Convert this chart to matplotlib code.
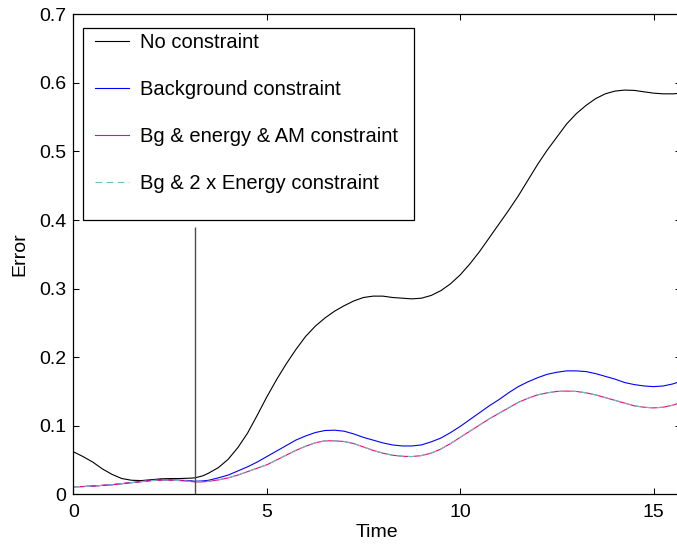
import numpy as np
import matplotlib
matplotlib.use('Agg')
import matplotlib.pyplot as plt
from matplotlib.patches import Rectangle

plt.rcParams['font.family'] = ['Liberation Sans', 'DejaVu Sans']

# values
time = [0.0, 0.25, 0.5, 0.75, 1.0, 1.25, 1.5, 1.75, 2.0, 2.25, 2.5, 2.75, 3.0,
        3.1416, 3.35,
        3.5, 3.75, 4.0, 4.25, 4.5, 4.75, 5.0, 5.25, 5.5, 5.75, 6.0, 6.25, 6.5, 6.75,
        7.0, 7.25, 7.5, 7.75, 8.0, 8.25, 8.5, 8.75, 9.0, 9.25, 9.5, 9.75,
        10.0, 10.25, 10.5, 10.75, 11.0, 11.25, 11.5, 11.75, 12.0, 12.25, 12.5, 12.75,
        13.0, 13.25, 13.5, 13.75, 14.0, 14.25, 14.5, 14.75, 15.0, 15.25, 15.5,
        15.708]
err_none = [0.062, 0.055, 0.047, 0.037, 0.029, 0.023, 0.0205, 0.020, 0.0212, 0.0225, 0.023, 0.023, 0.0235,
            0.024, 0.027,
            0.031, 0.039, 0.051, 0.068, 0.089, 0.115, 0.142, 0.167, 0.190, 0.211, 0.230, 0.245, 0.257, 0.267,
            0.275, 0.282, 0.287, 0.289, 0.289, 0.287, 0.286, 0.285, 0.286, 0.290, 0.297, 0.307,
            0.320, 0.336, 0.354, 0.374, 0.394, 0.414, 0.435, 0.458, 0.481, 0.502, 0.521, 0.540,
            0.555, 0.567, 0.577, 0.584, 0.588, 0.5895, 0.589, 0.587, 0.585, 0.584, 0.584,
            0.585]
err_bg = [0.011, 0.0113, 0.012, 0.013, 0.014, 0.0155, 0.017, 0.0185, 0.020, 0.021, 0.021, 0.0205, 0.020,
          0.019, 0.0195,
          0.0205, 0.024, 0.028, 0.034, 0.040, 0.047, 0.055, 0.063, 0.071, 0.079, 0.085, 0.090, 0.093, 0.0935,
          0.092, 0.088, 0.083, 0.079, 0.075, 0.072, 0.0705, 0.0705, 0.072, 0.0765, 0.082, 0.090,
          0.099, 0.109, 0.119, 0.129, 0.138, 0.148, 0.157, 0.164, 0.170, 0.175, 0.178, 0.180,
          0.180, 0.179, 0.176, 0.172, 0.168, 0.163, 0.160, 0.158, 0.157, 0.158, 0.161,
          0.165]
err_bg_en_am = [0.011, 0.0113, 0.012, 0.013, 0.014, 0.0155, 0.017, 0.0185, 0.020, 0.0207, 0.0207, 0.020, 0.019,
                0.018, 0.0182,
                0.019, 0.021, 0.024, 0.028, 0.033, 0.038, 0.043, 0.050, 0.057, 0.064, 0.070, 0.075, 0.078, 0.078,
                0.077, 0.074, 0.069, 0.064, 0.060, 0.057, 0.0555, 0.055, 0.0565, 0.060, 0.066, 0.074,
                0.083, 0.092, 0.101, 0.110, 0.118, 0.126, 0.134, 0.140, 0.145, 0.148, 0.150, 0.1505,
                0.150, 0.148, 0.145, 0.141, 0.137, 0.133, 0.129, 0.127, 0.126, 0.127, 0.130,
                0.134]
err_bg_2en = list(err_bg_en_am)

marker_time = np.pi
marker_top = 0.39

xticks = [0, 5, 10, 15]
yticks = [0, 0.1, 0.2, 0.3, 0.4, 0.5, 0.6, 0.7]
ytick_labels = ['0', '0.1', '0.2', '0.3', '0.4', '0.5', '0.6', '0.7']

W, H = 677, 548
fig = plt.figure(figsize=(W / 100, H / 100), dpi=100)
ax = fig.add_axes([73.4 / W, 1 - 494.3 / H, (681 - 73.4) / W, (494.3 - 14.3) / H])

ax.plot(time, err_none, color='k', lw=0.8, label='No constraint')
ax.plot(time, err_bg, color='#0000ff', lw=0.8, label='Background constraint')
ax.plot(time, err_bg_en_am, color='#ff0080', lw=0.8, label='Bg & energy & AM constraint')
ax.plot(time, err_bg_2en, color='#66c2bc', lw=0.8, ls=(0, (6, 4)), label='Bg & 2 x Energy constraint')
ax.vlines(marker_time, 0, marker_top, color='0.3', lw=1.0)

ax.set_xlim(0, 5 * np.pi)
ax.set_ylim(0, 0.7)
ax.set_xticks(xticks)
ax.set_yticks(yticks)
ax.set_yticklabels(ytick_labels)
ax.tick_params(direction='in', length=4.2, width=0.75, top=True, right=True,
               labelsize=14, colors='k')
ax.tick_params(axis='x', pad=7)
ax.tick_params(axis='y', pad=5)
for s in ax.spines.values():
    s.set_linewidth(0.9)
ax.set_xlabel('Time', fontsize=14, labelpad=2)
ax.set_ylabel('Error', fontsize=14, labelpad=8)

# MATLAB style legend box
box = Rectangle((82.7 / W, 1 - 220 / H), (414 - 82.7) / W, (220 - 28.3) / H,
                transform=fig.transFigure, facecolor='white', edgecolor='k',
                lw=0.9, zorder=4.5, clip_on=False)
ax.add_patch(box)
leg = ax.legend(loc='upper left', bbox_to_anchor=(95 / W, 1 - 33.5 / H),
                bbox_transform=fig.transFigure, frameon=False, borderpad=0,
                borderaxespad=0, fontsize=14.5, handlelength=1.7,
                handletextpad=0.55, labelspacing=1.38)
leg.set_zorder(5)

fig.savefig('out.png', dpi=100)
